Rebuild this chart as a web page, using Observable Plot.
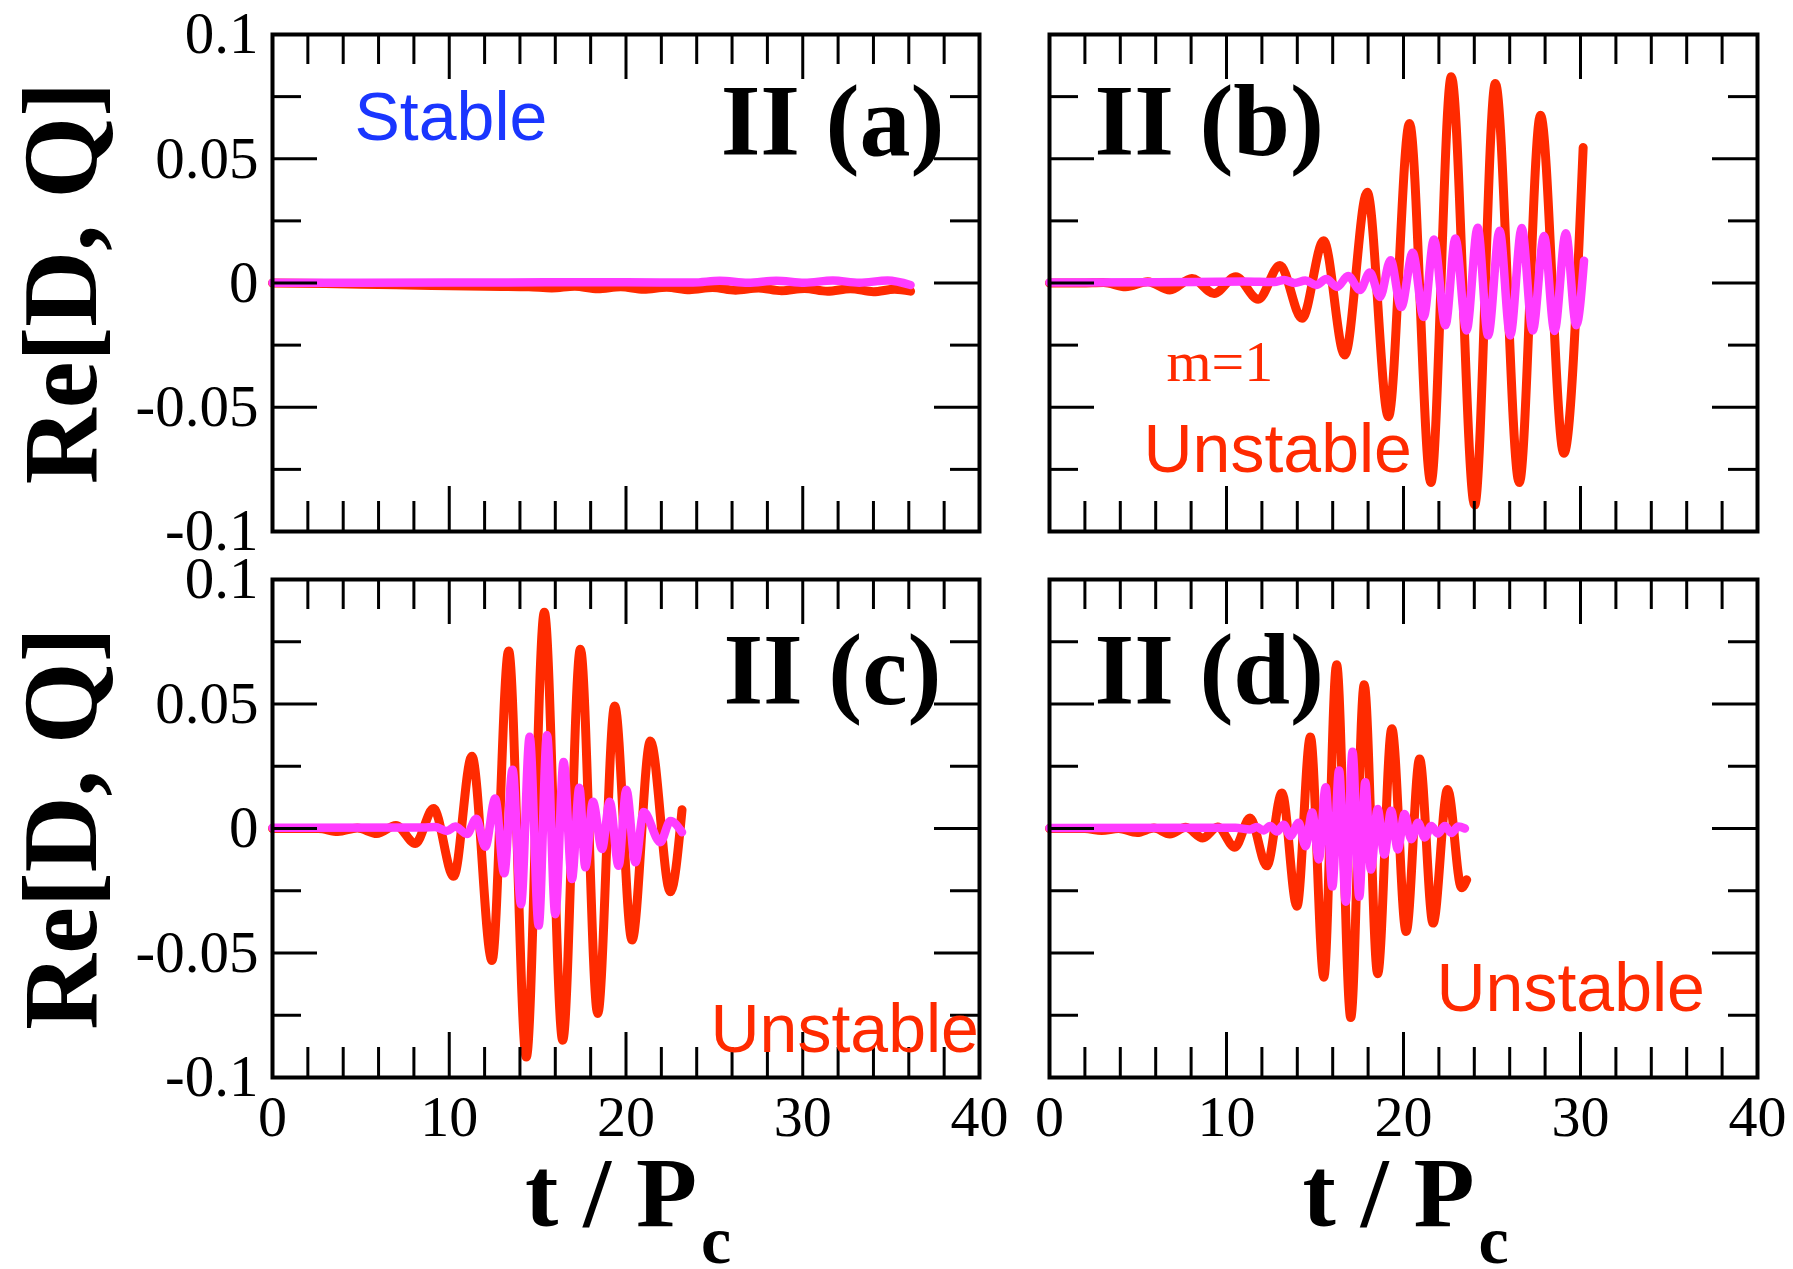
<!DOCTYPE html>
<html><head><meta charset="utf-8">
<script src="https://cdn.jsdelivr.net/npm/d3@7"></script>
<script src="https://cdn.jsdelivr.net/npm/@observablehq/plot@0.6"></script>
<style>
body{margin:0;background:#fff;}
#wrap{position:relative;width:1793px;height:1269px;background:#fff;overflow:hidden;}
.panel{position:absolute;}
.panel svg{overflow:visible;}
</style></head><body><div id="wrap"></div>
<script>
// ---- axis ticks ----
const xMajor = [10, 20, 30];
const xMinor = [2, 4, 6, 8, 12, 14, 16, 18, 22, 24, 26, 28, 32, 34, 36, 38];
const yMajor = [-0.05, 0, 0.05];
const yMinor = [-0.075, -0.025, 0.025, 0.075];
const xTickValues = [0, 10, 20, 30, 40];
const xTickLabels = ["0", "10", "20", "30", "40"];
const yTickValues = [-0.1, -0.05, 0, 0.05, 0.1];
const yTickLabels = ["-0.1", "-0.05", "0", "0.05", "0.1"];

// ---- series: [t / Pc, Re value] ----
const redA = [[0,0],[3,-0.0002],[6,-0.0006],[9,-0.0010],[12,-0.0013],[14.5,-0.0015],
  [15.8,-0.0020],[17.1,-0.0013],[18.4,-0.0023],[19.7,-0.0015],[21.0,-0.0025],[22.3,-0.0017],
  [23.6,-0.0027],[24.9,-0.0018],[26.2,-0.0029],[27.5,-0.0020],[28.8,-0.0031],[30.1,-0.0022],
  [31.4,-0.0033],[32.7,-0.0023],[34.0,-0.0035],[35.2,-0.0025],[36.1,-0.0033]];
const magA = [[0,0.0001],[10,0.0002],[20,0.0003],[23.8,0.0002],[25.3,0.0009],[26.9,0.0001],
  [28.5,0.0009],[30.1,0.0001],[31.7,0.0010],[33.2,0.0001],[34.8,0.0010],[36.1,-0.0008]];

const redB = [[0,0],[1.8,0],[3.05,0.0002],[4.3,-0.0015],[5.55,0.0005],[6.8,-0.0028],[8.05,0.0018],
  [9.3,-0.0042],[10.52,0.0025],[11.79,-0.0065],[13.02,0.0070],[14.27,-0.0142],[15.49,0.0170],
  [16.68,-0.0290],[17.95,0.0365],[19.15,-0.0538],[20.34,0.0642],[21.55,-0.0803],[22.70,0.0830],
  [24.02,-0.0893],[25.19,0.0803],[26.54,-0.0803],[27.74,0.0675],[29.06,-0.0685],[30.15,0.0545]];
const magB = [[0,0.0002],[6,0.0003],[11,0.0006],[12.7,0.0004],[13.25,0.0012],[13.85,0.0000],
  [14.46,0.0010],[15.07,-0.0008],[15.64,0.0016],[16.25,-0.0016],[16.87,0.0028],[17.54,-0.0028],
  [18.10,0.0042],[18.67,-0.0056],[19.27,0.0092],[19.87,-0.0097],[20.52,0.0122],[21.14,-0.0137],
  [21.72,0.0175],[22.37,-0.0170],[22.93,0.0179],[23.56,-0.0191],[24.19,0.0222],[24.78,-0.0211],
  [25.43,0.0210],[26.03,-0.0211],[26.68,0.0221],[27.30,-0.0191],[27.94,0.0189],[28.53,-0.0193],
  [29.17,0.0200],[29.76,-0.0170],[30.2,0.0090]];

const redC = [[0,0],[2.6,0],[3.7,-0.0012],[4.8,0.0002],[5.9,-0.0020],[6.98,0.0012],[8.08,-0.0060],
  [9.11,0.0080],[10.25,-0.0192],[11.28,0.0290],[12.42,-0.0530],[13.36,0.0713],[14.36,-0.0918],
  [15.38,0.0868],[16.42,-0.0850],[17.42,0.0720],[18.40,-0.0743],[19.36,0.0492],[20.34,-0.0448],
  [21.38,0.0351],[22.51,-0.0254],[23.17,0.0075]];
const magC = [[0,0.0003],[8.5,0.0004],[9.2,0.0006],[9.87,-0.0010],[10.34,0.0008],[11.0,-0.0022],
  [11.53,0.0039],[12.04,-0.0073],[12.6,0.0120],[13.11,-0.0180],[13.58,0.0236],[14.06,-0.0304],
  [14.55,0.0368],[15.06,-0.0390],[15.53,0.0375],[16.0,-0.0344],[16.47,0.0267],[16.94,-0.0203],
  [17.36,0.0164],[17.7,-0.0156],[18.13,0.0107],[18.64,-0.0082],[19.08,0.0107],[19.58,-0.0150],
  [20.02,0.0156],[20.53,-0.0136],[21.0,0.0066],[21.94,-0.0055],[22.51,0.0030],[23.17,-0.0015]];

const redD = [[0,0],[2.0,0],[2.95,-0.0008],[3.9,0.0000],[4.95,-0.0016],[5.9,0.0002],[6.8,-0.0022],
  [7.7,0.0005],[8.66,-0.0038],[9.5,0.0006],[10.47,-0.0075],[11.33,0.0042],[12.28,-0.0150],
  [13.13,0.0143],[13.98,-0.0312],[14.74,0.0367],[15.50,-0.0597],[16.22,0.0658],[17.02,-0.0759],
  [17.78,0.0577],[18.54,-0.0583],[19.34,0.0401],[20.15,-0.0414],[20.91,0.0279],[21.67,-0.0380],
  [22.49,0.0157],[23.28,-0.0238],[23.57,-0.0206]];
const magD = [[0,0.0002],[10.5,0.0003],[11.33,-0.0004],[11.71,0.0006],[12.09,-0.0008],[12.47,0.0010],
  [12.85,-0.0012],[13.23,0.0015],[13.61,-0.0030],[14.08,0.0023],[14.46,-0.0071],[14.84,0.0064],
  [15.22,-0.0124],[15.60,0.0166],[15.98,-0.0233],[16.36,0.0233],[16.74,-0.0294],[17.12,0.0308],
  [17.50,-0.0274],[17.84,0.0186],[18.16,-0.0165],[18.54,0.0078],[18.92,-0.0104],[19.30,0.0071],
  [19.68,-0.0084],[20.06,0.0058],[20.44,-0.0043],[20.82,0.0023],[21.20,-0.0036],[21.57,0.0010],
  [21.95,-0.0020],[22.33,0.0010],[22.71,-0.0018],[23.09,0.0008],[23.47,0.0000]];

// ---- labels ----
const panelLabels = ["II (a)", "II (b)", "II (c)", "II (d)"];
const yTitle = "Re[D, Q]";
const xTitleMain = "t / P";
const xTitleSub = "c";

const RED = "#ff2a00", MAG = "#ff3cff", BLUE = "#1a36ff";
const SERIF = "Liberation Serif, Times New Roman, serif";
const SANS = "Liberation Sans, Arial, sans-serif";

function toObj(arr) { return arr.map(([t, v]) => ({t, v})); }

function panel(cfg) {
  const W = cfg.width, H = cfg.height;
  const fw = W - cfg.ml - cfg.mr, fh = H - cfg.mt - cfg.mb;
  const marks = [
    Plot.line(toObj(cfg.red), {x: "t", y: "v", stroke: RED, strokeWidth: 9, curve: "monotone-x", strokeLinejoin: "round"}),
    Plot.line(toObj(cfg.mag), {x: "t", y: "v", stroke: MAG, strokeWidth: 8.5, curve: "monotone-x", strokeLinejoin: "round"}),
    // inward ticks: top/bottom
    Plot.ruleX(xMajor, {x: d => d, insetBottom: fh - 45, stroke: "black", strokeWidth: 3}),
    Plot.ruleX(xMinor, {x: d => d, insetBottom: fh - 30, stroke: "black", strokeWidth: 3}),
    Plot.ruleX(xMajor, {x: d => d, insetTop: fh - 45, stroke: "black", strokeWidth: 3}),
    Plot.ruleX(xMinor, {x: d => d, insetTop: fh - 30, stroke: "black", strokeWidth: 3}),
    // inward ticks: left/right
    Plot.ruleY(yMajor, {y: d => d, insetRight: fw - 45, stroke: "black", strokeWidth: 3}),
    Plot.ruleY(yMinor, {y: d => d, insetRight: fw - 29, stroke: "black", strokeWidth: 3}),
    Plot.ruleY(yMajor, {y: d => d, insetLeft: fw - 45, stroke: "black", strokeWidth: 3}),
    Plot.ruleY(yMinor, {y: d => d, insetLeft: fw - 29, stroke: "black", strokeWidth: 3}),
    Plot.frame({stroke: "black", strokeWidth: 4}),
    Plot.text([cfg.label], {text: d => d, frameAnchor: cfg.labelAnchor, textAnchor: cfg.labelTextAnchor,
      lineAnchor: "bottom", dx: cfg.labelDx, dy: cfg.labelDy, fontFamily: SERIF, fontWeight: "bold", fontSize: 102, fill: "black"})
  ];
  if (cfg.yAxis) {
    marks.push(Plot.text(yTickValues, {y: d => d, text: (d, i) => yTickLabels[i], frameAnchor: "left", textAnchor: "end",
      lineAnchor: "middle", dx: -14, fontFamily: SERIF, fontSize: 59, fill: "black"}));
    marks.push(Plot.text([yTitle], {text: d => d, frameAnchor: "left", rotate: -90, textAnchor: "middle",
      lineAnchor: "middle", dx: -210, fontFamily: SERIF, fontWeight: "bold", fontSize: 105, fill: "black"}));
  }
  if (cfg.xAxis) {
    marks.push(Plot.text(xTickValues, {x: d => d, text: (d, i) => xTickLabels[i], frameAnchor: "bottom", textAnchor: "middle",
      lineAnchor: "top", dy: 17, fontFamily: SERIF, fontSize: 58, fill: "black"}));
    marks.push(Plot.text([xTitleMain], {text: d => d, frameAnchor: "bottom", textAnchor: "middle",
      lineAnchor: "bottom", dx: -15, dy: 148, fontFamily: SERIF, fontWeight: "bold", fontSize: 100, fill: "black"}));
    marks.push(Plot.text([xTitleSub], {text: d => d, frameAnchor: "bottom", textAnchor: "middle",
      lineAnchor: "bottom", dx: 90, dy: 185, fontFamily: SERIF, fontWeight: "bold", fontSize: 68, fill: "black"}));
  }
  for (const n of cfg.notes) {
    marks.push(Plot.text([n.text], {text: d => d, frameAnchor: "top-left", textAnchor: "start", lineAnchor: "bottom",
      dx: n.dx, dy: n.dy, fontFamily: n.family, fontSize: n.size, fill: n.color}));
  }
  const svg = Plot.plot({
    width: W, height: H,
    marginLeft: cfg.ml, marginRight: cfg.mr, marginTop: cfg.mt, marginBottom: cfg.mb,
    x: {domain: [0, 40], axis: null},
    y: {domain: [-0.1, 0.1], axis: null},
    style: {overflow: "visible", background: "transparent"},
    marks
  });
  const div = document.createElement("div");
  div.className = "panel";
  div.style.left = cfg.left + "px";
  div.style.top = cfg.top + "px";
  div.style.width = W + "px";
  div.style.height = H + "px";
  div.appendChild(svg);
  document.getElementById("wrap").appendChild(div);
}

panel({left: 0, top: 0, width: 1000, height: 560, ml: 272, mr: 21, mt: 34, mb: 29,
  red: redA, mag: magA, label: panelLabels[0], labelAnchor: "top-right", labelTextAnchor: "end", labelDx: -35, labelDy: 120,
  yAxis: true, xAxis: false,
  notes: [{text: "Stable", dx: 82, dy: 105, family: SANS, size: 68, color: BLUE}]});
panel({left: 1000, top: 0, width: 793, height: 560, ml: 49, mr: 36, mt: 34, mb: 29,
  red: redB, mag: magB, label: panelLabels[1], labelAnchor: "top-left", labelTextAnchor: "start", labelDx: 45, labelDy: 120,
  yAxis: false, xAxis: false,
  notes: [{text: "m=1", dx: 117, dy: 346, family: SERIF, size: 58, color: RED},
          {text: "Unstable", dx: 94, dy: 437, family: SANS, size: 68, color: RED}]});
panel({left: 0, top: 560, width: 1000, height: 709, ml: 272, mr: 21, mt: 19, mb: 192,
  red: redC, mag: magC, label: panelLabels[2], labelAnchor: "top-right", labelTextAnchor: "end", labelDx: -38, labelDy: 124,
  yAxis: true, xAxis: true,
  notes: [{text: "Unstable", dx: 438, dy: 472, family: SANS, size: 68, color: RED}]});
panel({left: 1000, top: 560, width: 793, height: 709, ml: 49, mr: 36, mt: 19, mb: 192,
  red: redD, mag: magD, label: panelLabels[3], labelAnchor: "top-left", labelTextAnchor: "start", labelDx: 45, labelDy: 124,
  yAxis: false, xAxis: true,
  notes: [{text: "Unstable", dx: 387, dy: 431, family: SANS, size: 68, color: RED}]});
</script></body></html>
